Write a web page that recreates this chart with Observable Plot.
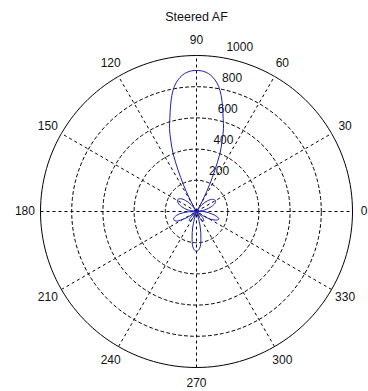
<!DOCTYPE html>
<html>
<head>
<meta charset="utf-8">
<script src="https://cdn.jsdelivr.net/npm/d3@7"></script>
<script src="https://cdn.jsdelivr.net/npm/@observablehq/plot@0.6"></script>
<style>
  html, body { margin: 0; padding: 0; background: #fff; }
  #chart svg { display: block; }
</style>
</head>
<body>
<div id="chart"></div>
<script>
// ---- data ----
const title = "Steered AF";
const rTicks = [200, 400, 600, 800, 1000];
const rMax = 1000;
const spokeAngles = [0, 30, 60, 90, 120, 150];
const angleLabels = [0, 30, 60, 90, 120, 150, 180, 210, 240, 270, 300, 330];

// array factor magnitude (angle in degrees, magnitude)
const afAngle = [
  5, 11, 18, 24, 30, 37, 44, 51, 58,
  60, 62, 64, 66, 68, 70, 72, 74, 76, 78, 80, 82, 84, 86, 88, 90,
  92, 94, 96, 98, 100, 102, 104, 106, 108, 110, 112, 114, 116, 118, 120, 122,
  128, 135, 141, 148, 155, 162, 170, 178,
  183, 188, 194, 200, 205, 209, 213, 218,
  222, 226, 229, 233, 237, 240, 244, 248,
  252, 256, 261, 265, 270, 275, 279, 284, 288,
  290, 294, 298, 302, 307, 311, 315, 318, 322,
  327, 331, 336, 341, 346, 351, 358, 365
];
const afMag = [
  0, 55, 100, 130, 141, 130, 100, 55, 0,
  40, 104, 190, 290, 400, 480, 560, 620, 690, 760, 815, 852, 878, 894, 902, 904,
  902, 894, 878, 852, 815, 760, 690, 620, 560, 480, 400, 290, 190, 104, 40, 0,
  55, 100, 130, 143, 130, 100, 55, 0,
  60, 110, 144, 156, 144, 110, 60, 0,
  30, 55, 70, 76, 70, 55, 30, 0,
  0, 95, 180, 236, 256, 236, 180, 95, 0,
  0, 30, 55, 70, 76, 70, 55, 30, 0,
  55, 100, 135, 152, 135, 100, 55, 0
];

// ---- helpers (geometry only) ----
const rad = d => d * Math.PI / 180;
const pattern = afAngle.map((a, i) => ({x: afMag[i] * Math.cos(rad(a)), y: afMag[i] * Math.sin(rad(a))}));

const circle = (r) => d3.range(0, 361, 2).map(a => ({r, x: r * Math.cos(rad(a)), y: r * Math.sin(rad(a))}));
const innerRings = rTicks.filter(r => r < rMax).flatMap(r => circle(r));
const outerRing = circle(rMax);

const spokes = spokeAngles.map(a => ({
  x1: -rMax * Math.cos(rad(a)), y1: -rMax * Math.sin(rad(a)),
  x2: rMax * Math.cos(rad(a)), y2: rMax * Math.sin(rad(a))
}));

const angleText = angleLabels.map(a => ({
  label: String(a), x: 1.1 * rMax * Math.cos(rad(a)), y: 1.1 * rMax * Math.sin(rad(a)),
  shift: a === 0 ? -4 : 0
}));

const rText = rTicks.map(r => ({
  label: String(r), x: (r + 10) * Math.cos(rad(82)), y: (r + 10) * Math.sin(rad(82))
}));

const font = "Liberation Sans, Arial, sans-serif";

const chart = Plot.plot({
  width: 368,
  height: 391,
  marginLeft: 40,
  marginRight: 16,
  marginTop: 55,
  marginBottom: 24,
  style: {fontFamily: font, background: "#fff", overflow: "visible"},
  x: {domain: [-rMax, rMax], axis: null},
  y: {domain: [-rMax, rMax], axis: null},
  marks: [
    Plot.line(innerRings, {x: "x", y: "y", z: "r", stroke: "#000", strokeWidth: 1, strokeDasharray: "3,3"}),
    Plot.link(spokes, {x1: "x1", y1: "y1", x2: "x2", y2: "y2", stroke: "#000", strokeWidth: 1, strokeDasharray: "3,3"}),
    Plot.line(outerRing, {x: "x", y: "y", stroke: "#000", strokeWidth: 1}),
    Plot.text(rText, {x: "x", y: "y", text: "label", textAnchor: "start", dx: 8, dy: -8, fontSize: 12, fill: "#111"}),
    Plot.text(angleText.filter(d => d.shift === 0), {x: "x", y: "y", text: "label", fontSize: 12, fill: "#111"}),
    Plot.text(angleText.filter(d => d.shift !== 0), {x: "x", y: "y", text: "label", fontSize: 12, fill: "#111", dx: -4}),
    Plot.line(pattern, {x: "x", y: "y", stroke: "#1f1fb0", strokeWidth: 1, curve: "catmull-rom"}),
    Plot.text([title], {x: 0, y: 1250, text: d => d, fontSize: 12.5, fill: "#111"})
  ]
});

document.getElementById("chart").appendChild(chart);
</script>
</body>
</html>
